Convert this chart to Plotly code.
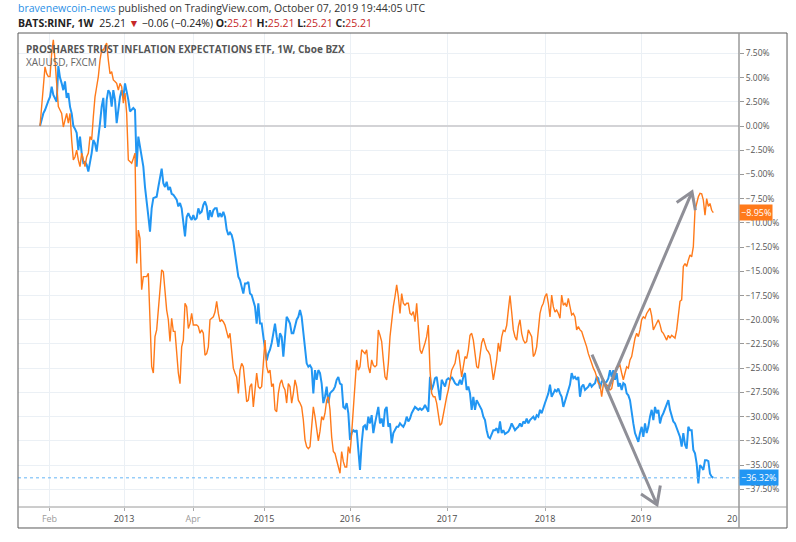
import plotly.graph_objects as go

# ---- data (percent change since start, weekly bars) ----
rinf_pct = [
    0, 0.8, 1.3, 1.65, 2.2, 2.6, 3.0, 4.06, 3.2, 2.9,
    2.5, 6.2, 5.0, 4.4, 3.7, 4.6, 2.9, 3.4, 2.0, 1.3,
    0, -0.3, -0.7, -2.5, -1.1, -2.8, -3.8, -3.7, -4.0, -4.7,
    -3.8, -2.8, -1.45, -1.8, -2.65, -1.45, 0.3, 2.0, 2.9, -0.2,
    2.7, 3.7, 3.4, 2.0, 3.7, 2.7, 0.3, 1.65, 3.0, 3.7,
    2.9, 4.4, 3.7, 2.7, 1.5, 1.65, 1.85, 1.65, -4.2, -1.1,
    -2.1, -2.8, -4.2, -6.3, -7.6, -9.3, -10.9, -8.5, -7.45, -7.4,
    -7.3, -6.3, -5.2, -4.4, -5.9, -6.3, -5.75, -6.6, -6.3, -7.0,
    -7.1, -7.3, -7.6, -8.3, -7.95, -8.5, -9.7, -11.4, -9.4, -9.0,
    -9.4, -9.7, -9.2, -9.7, -9.5, -8.5, -9.0, -8.85, -8.15, -7.8,
    -8.3, -9.7, -8.7, -9.4, -8.7, -8.5, -8.5, -9.4, -9.0, -9.4,
    -8.85, -9.4, -10.7, -11.25, -11.0, -11.25, -11.95, -13.15, -14.2, -15.55,
    -15.9, -16.6, -17.3, -16.25, -16.25, -16.1, -17.3, -17.45, -18.0, -18.65,
    -20.4, -18.3, -20.4, -20.4, -21.75, -23.1, -24.2, -23.5, -23.1, -22.4,
    -21.4, -20.4, -21.75, -22.8, -21.4, -21.75, -23.8, -21.4, -19.7, -20.0,
    -20.4, -21.4, -21.4, -20.7, -20.0, -19.7, -19.0, -19.7, -21.4, -23.1,
    -24.5, -24.85, -24.7, -25.0, -27.6, -25.2, -26.2, -25.2, -25.5, -26.6,
    -28.6, -27.95, -26.9, -28.6, -27.6, -27.4, -27.25, -26.9, -26.2, -25.9,
    -26.6, -26.7, -29.0, -29.15, -28.6, -29.65, -32.4, -31.7, -31.4, -31.55,
    -31.4, -33.45, -35.5, -32.75, -31.05, -30.9, -31.4, -30.0, -30.7, -29.85,
    -31.7, -30.7, -30.0, -29.0, -30.7, -30.2, -31.05, -29.3, -29.0, -31.05,
    -30.7, -32.75, -31.7, -31.4, -31.05, -31.05, -30.7, -30.9, -31.05, -30.7,
    -30.0, -30.5, -30.2, -29.65, -29.3, -29.0, -29.15, -29.3, -29.15, -29.3,
    -29.15, -28.8, -29.15, -29.5, -25.9, -27.25, -26.75, -26.05, -25.9, -26.9,
    -28.3, -26.2, -26.55, -26.9, -26.2, -26.05, -26.2, -25.9, -26.2, -26.55,
    -26.7, -26.7, -26.2, -26.7, -25.9, -25.5, -27.25, -26.9, -27.6, -29.3,
    -27.95, -29.3, -28.3, -28.6, -29.0, -29.3, -30.0, -30.35, -31.4, -32.1,
    -32.25, -31.7, -31.4, -31.4, -31.2, -31.7, -30.5, -31.7, -31.4, -31.8,
    -31.7, -31.55, -31.2, -30.7, -31.05, -31.4, -31.2, -31.05, -30.7, -31.05,
    -30.5, -30.7, -30.2, -30.7, -30.35, -30.2, -30.0, -30.35, -29.85, -30.0,
    -29.3, -29.65, -29.0, -28.6, -28.1, -27.6, -26.7, -27.95, -27.6, -27.25,
    -27.4, -27.1, -27.6, -27.95, -29.0, -28.45, -27.95, -27.25, -26.7, -25.5,
    -26.05, -25.9, -26.2, -25.9, -27.95, -26.9, -26.7, -27.25, -27.1, -26.9,
    -26.55, -26.9, -26.7, -26.55, -25.9, -26.05, -27.1, -26.4, -26.2, -26.55,
    -26.4, -26.05, -25.2, -25.9, -25.2, -26.2, -25.5, -26.9, -26.55, -27.25,
    -26.55, -26.7, -27.6, -27.8, -28.3, -29.65, -30.7, -31.7, -32.25, -32.6,
    -31.7, -31.05, -32.1, -30.7, -31.7, -31.05, -30.0, -29.3, -30.35, -29.0,
    -29.65, -29.3, -30.7, -30.0, -29.65, -29.15, -28.6, -28.3, -29.3, -30.0,
    -30.5, -30.7, -31.2, -31.7, -32.1, -33.1, -31.7, -32.9, -33.3, -31.05,
    -31.4, -31.4, -33.45, -33.8, -34.85, -36.9, -35.0, -35.2, -35.5, -34.5,
    -34.5, -34.6, -35.9, -36.2, -36.32,
]

xauusd_pct = [
    0, 2.5, 4.05, 6.1, 5.4, 5.1, 5.1, 7.5, 8.9, 6.8,
    3.7, 2.0, 1.65, 1.3, -0.1, 0.6, 1.3, 0.3, 1.3, -1.45,
    -3.5, -3.2, -2.5, -3.5, -4.2, -2.8, -3.5, -4.2, -3.2, -2.8,
    -1.1, -1.45, 0.95, 3.0, 4.05, 5.1, 6.8, 7.85, 7.85, 8.2,
    8.55, 6.8, 5.4, 5.6, 4.75, 4.6, 4.4, 3.7, 4.4, 4.05,
    2.35, 3.4, 1.3, -3.5, -3.7, -3.85, -3.35, -2.8, -14.2, -10.75,
    -11.6, -16.9, -15.55, -15.55, -15.55, -15.2, -20.0, -24.85, -25.5, -21.75,
    -21.05, -18.65, -16.25, -14.85, -15.05, -17.3, -19.0, -20.0, -22.25, -19.85,
    -21.2, -21.2, -23.5, -25.5, -26.6, -22.8, -22.1, -18.3, -18.65, -20.9,
    -20.4, -19.35, -20.55, -20.55, -20.55, -20.7, -21.4, -21.05, -21.4, -23.65,
    -23.5, -22.8, -20.0, -19.85, -19.7, -19.2, -18.1, -19.35, -20.2, -20.0,
    -20.2, -20.55, -21.4, -21.9, -21.4, -23.5, -25.0, -25.5, -25.9, -27.6,
    -25.2, -24.5, -24.85, -26.6, -28.45, -28.3, -26.9, -26.6, -29.0, -27.25,
    -25.5, -26.9, -27.1, -26.9, -24.15, -22.1, -24.85, -25.5, -25.2, -26.9,
    -26.6, -29.3, -29.5, -27.6, -26.6, -26.2, -26.9, -27.25, -28.6, -26.6,
    -26.9, -28.6, -27.6, -26.2, -26.9, -28.3, -28.6, -29.0, -30.35, -32.4,
    -33.1, -33.3, -33.1, -30.7, -29.0, -30.0, -31.3, -32.5, -31.5, -30.0,
    -30.35, -29.65, -28.3, -27.95, -29.3, -32.1, -33.6, -33.8, -34.5, -35.2,
    -35.85, -33.6, -34.65, -35.2, -35.2, -33.1, -33.8, -31.7, -29.3, -26.6,
    -24.15, -25.2, -24.85, -23.1, -23.3, -23.5, -23.1, -24.85, -25.5, -24.15,
    -24.7, -24.85, -24.7, -21.05, -21.6, -22.25, -24.15, -25.9, -26.2, -24.5,
    -21.75, -20.0, -18.65, -17.6, -16.4, -17.6, -19.35, -17.3, -18.3, -18.5,
    -18.3, -18.3, -19.35, -19.5, -19.15, -20.2, -18.3, -20.7, -23.1, -23.5,
    -22.8, -22.4, -21.75, -20.55, -25.2, -27.6, -27.95, -27.95, -28.6, -30.0,
    -30.9, -30.7, -29.65, -29.0, -27.95, -27.25, -26.2, -25.2, -24.85, -24.5,
    -23.5, -23.1, -24.5, -25.9, -24.85, -23.8, -24.0, -23.1, -21.6, -21.4,
    -22.1, -23.5, -24.85, -25.0, -23.5, -22.4, -21.9, -22.4, -23.1, -23.3,
    -23.65, -24.85, -26.2, -25.2, -24.15, -22.4, -23.3, -21.8, -21.1, -21.2,
    -20.6, -19.0, -17.5, -19.2, -21.05, -21.75, -22.1, -20.7, -20.0, -21.4,
    -22.1, -22.4, -22.25, -21.05, -21.4, -21.75, -23.8, -23.5, -22.8, -21.05,
    -19.35, -18.65, -18.3, -17.6, -17.3, -18.3, -19.7, -17.45, -18.65, -19.2,
    -19.0, -19.35, -19.85, -17.45, -18.5, -18.3, -18.65, -17.8, -18.65, -19.5,
    -19.35, -19.7, -21.05, -20.7, -21.05, -21.2, -21.75, -22.25, -22.8, -23.5,
    -24.15, -24.5, -25.0, -25.35, -25.9, -26.55, -26.7, -27.95, -26.7, -26.55,
    -26.7, -26.9, -27.25, -27.1, -26.2, -25.5, -24.85, -24.85, -24.7, -25.5,
    -26.2, -25.5, -24.85, -25.0, -24.15, -23.8, -22.8, -21.9, -21.4, -21.75,
    -21.05, -20.0, -19.7, -19.85, -19.35, -19.0, -18.8, -19.6, -21.05, -20.7,
    -20.4, -20.0, -20.5, -21.2, -21.4, -21.75, -22.1, -21.6, -21.9, -21.6,
    -21.75, -21.9, -21.05, -19.7, -18.1, -17.95, -14.5, -14.2, -14.5, -13.85,
    -13.3, -13.5, -12.45, -8.7, -8.0, -7.3, -6.95, -7.0, -7.65, -9.2,
    -7.5, -8.3, -8.0, -8.7, -8.95,
]

week_index = list(range(len(rinf_pct)))

x_tick_pos = [5.7, 50.4, 91.8, 134.4, 186, 244.2, 303, 360.6]
x_tick_text = ["Feb", "2013", "Apr", "2015", "2016", "2017", "2018", "2019"]
y_tick_vals = [7.5, 5, 2.5, 0, -2.5, -5, -7.5, -10, -12.5, -15, -17.5, -20,
               -22.5, -25, -27.5, -30, -32.5, -35, -37.5]

# arrows (annotation drawing, in data units: week index, percent)
arrow_up = dict(start=(340.2, -27.4), tip=(391.2, -6.8), barbs=[(382, -7.9), (393.2, -8.7)])
arrow_down = dict(start=(331.2, -23.6), tip=(370.2, -39.1), barbs=[(360.6, -38.0), (372.2, -37.1)])

BLUE = "#2196f3"
ORANGE = "#ff7a1a"
GRID = "#ebf0f5"

def fmt_pct(v):
    return f"{v:.2f}%".replace("-", "\u2212")

styled_x = []
for t in x_tick_text:
    if t.isdigit():
        styled_x.append(f'<span style="color:#4a4a4a">{t}</span>')
    else:
        styled_x.append(f'<span style="color:#9a9a9a">{t}</span>')

fig = go.Figure()
fig.add_trace(go.Scatter(x=week_index, y=rinf_pct, mode="lines",
                         line=dict(color=BLUE, width=2), hoverinfo="skip"))
fig.add_trace(go.Scatter(x=week_index, y=xauusd_pct, mode="lines",
                         line=dict(color=ORANGE, width=1.4), hoverinfo="skip"))

def arrow_path(a):
    (x0, y0), (xt, yt) = a["start"], a["tip"]
    (b1x, b1y), (b2x, b2y) = a["barbs"]
    return f"M {x0},{y0} L {xt},{yt} M {b1x},{b1y} L {xt},{yt} L {b2x},{b2y}"

shapes = []
for a in (arrow_up, arrow_down):
    shapes.append(dict(type="path", xref="x", yref="y", path=arrow_path(a),
                       line=dict(color="#8f8f97", width=3)))

# last value dotted line for RINF
shapes.append(dict(type="line", xref="paper", x0=0, x1=1, yref="y",
                   y0=rinf_pct[-1], y1=rinf_pct[-1],
                   line=dict(color="#64b5f6", width=1, dash="dot")))
# frame
shapes.append(dict(type="rect", xref="paper", yref="paper", x0=0, x1=1.0666,
                   y0=-0.0443, y1=1.0, line=dict(color="#5a5a5a", width=1)))
shapes.append(dict(type="line", xref="paper", yref="paper", x0=0, x1=1.0666,
                   y0=0, y1=0, line=dict(color="#9a9a9a", width=1)))
shapes.append(dict(type="line", xref="paper", yref="paper", x0=1, x1=1,
                   y0=-0.0443, y1=1.0, line=dict(color="#9a9a9a", width=1.5)))

FONT = "Open Sans, Noto Sans, sans-serif"
annotations = [
    dict(xref="paper", yref="paper", x=-0.003, y=1.0527, xanchor="left", yanchor="middle",
         showarrow=False, font=dict(family=FONT, size=10.5, color="#333333"),
         text='<span style="color:#2a8fe6">bravenewcoin-news</span> published on TradingView.com, October 07, 2019 19:44:05 UTC'),
    dict(xref="paper", yref="paper", x=-0.003, y=1.0211, xanchor="left", yanchor="middle",
         showarrow=False, font=dict(family=FONT, size=10.5, color="#222222"),
         text='<b>BATS:RINF, 1W</b>  25.21 <span style="color:#c62828">\u25bc</span> \u22120.06 (\u22120.24%) '
              '<b>O:</b><span style="color:#c62828">25.21</span> <b>H:</b><span style="color:#c62828">25.21</span> '
              '<b>L:</b><span style="color:#c62828">25.21</span> <b>C:</b><span style="color:#c62828">25.21</span>'),
    dict(xref="paper", yref="paper", x=0.009, y=0.9662, xanchor="left", yanchor="middle",
         showarrow=False, font=dict(family=FONT, size=10, color="#555555"),
         text="<b>PROSHARES TRUST INFLATION EXPECTATIONS ETF, 1W, Cboe BZX</b>"),
    dict(xref="paper", yref="paper", x=0.009, y=0.9388, xanchor="left", yanchor="middle",
         showarrow=False, font=dict(family=FONT, size=10, color="#666666"),
         text="XAUUSD, FXCM"),
    dict(xref="paper", yref="paper", x=1.0, y=-0.0235, xanchor="right", yanchor="middle",
         showarrow=False, font=dict(family=FONT, size=9, color="#4a4a4a"), text="20"),
    dict(xref="paper", yref="y", x=1.0, y=xauusd_pct[-1], xanchor="left", yanchor="middle",
         showarrow=False, bgcolor=ORANGE, borderpad=1,
         font=dict(family=FONT, size=9, color="white"), text=fmt_pct(xauusd_pct[-1])),
    dict(xref="paper", yref="y", x=1.0, y=rinf_pct[-1], xanchor="left", yanchor="middle",
         showarrow=False, bgcolor=BLUE, borderpad=1,
         font=dict(family=FONT, size=9, color="white"), text=fmt_pct(rinf_pct[-1])),
]

fig.update_layout(
    width=796, height=542,
    margin=dict(l=18, r=57, t=33, b=35, autoexpand=False),
    paper_bgcolor="white", plot_bgcolor="white",
    showlegend=False,
    font=dict(family=FONT),
    shapes=shapes,
    annotations=annotations,
    xaxis=dict(range=[-13.2, 419.4], tickmode="array", tickvals=x_tick_pos,
               ticktext=styled_x, showgrid=True, gridcolor=GRID, gridwidth=1,
               zeroline=False, showline=False, ticks="outside", ticklen=3,
               tickcolor="#aaaaaa", tickfont=dict(size=9, color="#4a4a4a"),
               fixedrange=True),
    yaxis=dict(range=[-39.33, 9.6], side="right", tickmode="array",
               tickvals=y_tick_vals, ticktext=[fmt_pct(v) for v in y_tick_vals],
               showgrid=True, gridcolor=GRID, gridwidth=1,
               zeroline=True, zerolinecolor="#d3d3d6", zerolinewidth=2,
               showline=False, ticks="outside", ticklen=4, tickcolor="#999999",
               tickfont=dict(size=8.5, color="#555555"), fixedrange=True),
)

# remove the default page margin so the figure sits at the window's top-left corner
fig.write_html("out.html",
               config={"displayModeBar": False, "staticPlot": False},
               post_script="document.body.style.margin='0';document.body.style.overflow='hidden';")
